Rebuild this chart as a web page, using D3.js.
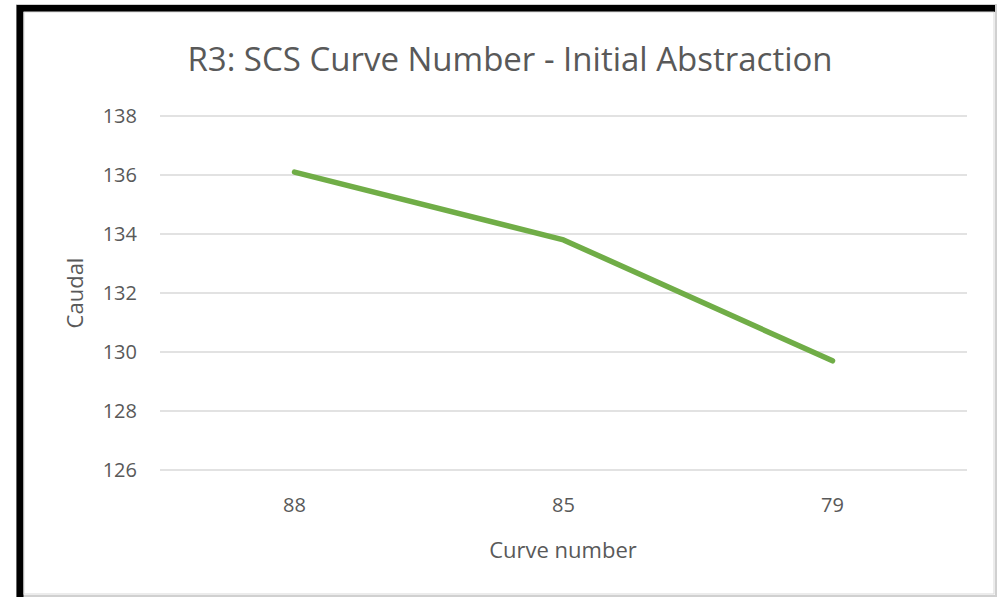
<!DOCTYPE html>
<html><head><meta charset="utf-8">
<script src="https://cdn.jsdelivr.net/npm/d3@7"></script>
<style>body{margin:0;background:#fff;}svg{display:block;}</style>
</head><body>
<script>
const categories = ["88", "85", "79"];
const values = [136.1, 133.8, 129.7];
const yTicks = [126, 128, 130, 132, 134, 136, 138];
const title = "R3: SCS Curve Number - Initial Abstraction";
const xTitle = "Curve number";
const yTitle = "Caudal";

(function () {
const W = 999, H = 597;
const svg = d3.select("body").append("svg").attr("width", W).attr("height", H);
svg.append("rect").attr("width", W).attr("height", H).attr("fill", "#fff");

// frame
svg.append("rect").attr("x", 17).attr("y", 5).attr("width", 979).attr("height", 591)
  .attr("fill", "none").attr("stroke", "#d0d0d0").attr("stroke-width", 2);
svg.append("path").attr("d", "M20,597 V8.5 H995").attr("fill", "none").attr("stroke", "#000").attr("stroke-width", 7);
svg.append("rect").attr("x", 24).attr("y", 12).attr("width", 970).attr("height", 582)
  .attr("fill", "none").attr("stroke", "#d9d9d9").attr("stroke-width", 1);

const font = "'Open Sans', sans-serif";
const mLeft = 160, mRight = 967, mTop = 116, mBottom = 470;
const x = d3.scaleBand().domain(categories).range([mLeft, mRight]);
const y = d3.scaleLinear().domain([126, 138]).range([mBottom, mTop]);

svg.append("g").selectAll("line").data(yTicks).join("line")
  .attr("x1", mLeft).attr("x2", mRight)
  .attr("y1", d => y(d)).attr("y2", d => y(d))
  .attr("stroke", "#d9d9d9").attr("stroke-width", 1.5);

svg.append("g").selectAll("text").data(yTicks).join("text")
  .attr("x", 137).attr("y", d => y(d)).attr("dy", "0.36em")
  .attr("text-anchor", "end").attr("fill", "#595959")
  .style("font-family", font).style("font-size", "20px").text(d => d);

svg.append("g").selectAll("text").data(categories).join("text")
  .attr("x", d => x(d) + x.bandwidth() / 2).attr("y", 512)
  .attr("text-anchor", "middle").attr("fill", "#595959")
  .style("font-family", font).style("font-size", "20px").text(d => d);

const line = d3.line().x((d, i) => x(categories[i]) + x.bandwidth() / 2).y(d => y(d));
svg.append("path").datum(values).attr("d", line)
  .attr("fill", "none").attr("stroke", "#70ad47").attr("stroke-width", 5.5)
  .attr("stroke-linecap", "round").attr("stroke-linejoin", "round");

svg.append("text").attr("x", 510).attr("y", 71).attr("text-anchor", "middle")
  .attr("fill", "#595959").style("font-family", font).style("font-size", "33px").text(title);

svg.append("text").attr("x", 563).attr("y", 558).attr("text-anchor", "middle")
  .attr("fill", "#595959").style("font-family", font).style("font-size", "22px").text(xTitle);

svg.append("text").attr("transform", "translate(83,293) rotate(-90)").attr("text-anchor", "middle")
  .attr("fill", "#595959").style("font-family", font).style("font-size", "22px").text(yTitle);
})();
</script>
</body></html>
